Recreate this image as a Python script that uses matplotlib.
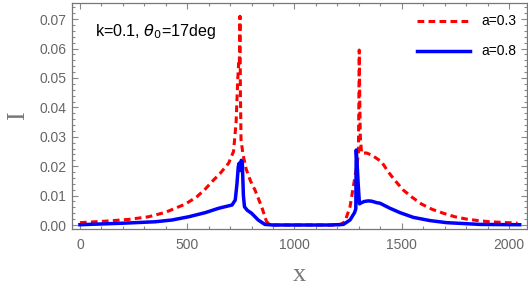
import matplotlib
matplotlib.use('Agg')
import matplotlib.pyplot as plt
from matplotlib.ticker import MultipleLocator, FormatStrFormatter

# a=0.3 (red dashed)
red_x = [0, 118, 227, 320, 398, 491, 545, 584, 623, 654, 693, 716, 728, 736, 740, 743,
         746, 748, 751, 760, 775, 795, 816, 847, 870, 890, 1000, 1150, 1210, 1235,
         1259, 1277, 1290, 1298, 1300, 1302, 1304, 1307, 1313, 1335, 1360, 1406, 1437,
         1469, 1507, 1549, 1593, 1643, 1694, 1748, 1803, 1857, 1911, 1966, 2020, 2040]
red_y = [0.0008, 0.0013, 0.0019, 0.0028, 0.0043, 0.0071, 0.0096, 0.0122, 0.0153, 0.0176,
         0.021, 0.025, 0.035, 0.050, 0.055, 0.054, 0.071, 0.045, 0.029, 0.024, 0.019,
         0.015, 0.0119, 0.0062, 0.0011, 0.0, 0.0, 0.0, 0.0, 0.0011, 0.0062, 0.0142,
         0.0198, 0.024, 0.040, 0.0595, 0.045, 0.030, 0.0244, 0.0245, 0.0238, 0.0215,
         0.0181, 0.0151, 0.0119, 0.0094, 0.0071, 0.0053, 0.004, 0.0028, 0.002, 0.0015,
         0.0011, 0.0009, 0.0007, 0.0006]

# a=0.8 (blue solid)
blue_x = [0, 196, 351, 429, 507, 584, 647, 709, 724, 732, 738, 742, 747, 752, 757, 762,
          767, 780, 800, 831, 862, 900, 1000, 1165, 1228, 1259, 1280, 1286, 1288, 1292,
          1297, 1303, 1310, 1325, 1344, 1360, 1383, 1399, 1445, 1492, 1554, 1632, 1709,
          1865, 2050]
blue_y = [0.0001, 0.0006, 0.0011, 0.0017, 0.0028, 0.0042, 0.0057, 0.0068, 0.0085, 0.014,
          0.0198, 0.021, 0.0185, 0.022, 0.021, 0.010, 0.0062, 0.005, 0.004, 0.0017,
          0.0002, 0.0, 0.0, 0.0, 0.0002, 0.0017, 0.0042, 0.0055, 0.0255, 0.021, 0.014,
          0.0072, 0.0075, 0.008, 0.0082, 0.0081, 0.0076, 0.0074, 0.0057, 0.0042, 0.0026,
          0.0015, 0.0008, 0.0002, 0.0001]

labels = ['a=0.3', 'a=0.8']

gray = '#666666'
fig = plt.figure(figsize=(5.28, 2.88), dpi=100)
ax = fig.add_axes([72/528, 1 - 229.3/288, 455/528, 226.6/288])

ax.plot(red_x, red_y, color='#ff0000', lw=2.2, linestyle=(0, (2.2, 1.4)), label=labels[0])
ax.plot(blue_x, blue_y, color='#0000ff', lw=2.5, label=labels[1])

ax.set_xlim(-37, 2084)
ax.set_ylim(-0.00146, 0.0756)

ax.xaxis.set_major_locator(MultipleLocator(500))
ax.xaxis.set_minor_locator(MultipleLocator(100))
ax.yaxis.set_major_locator(MultipleLocator(0.01))
ax.yaxis.set_minor_locator(MultipleLocator(0.002))
ax.yaxis.set_major_formatter(FormatStrFormatter('%.2f'))

ax.tick_params(which='both', direction='in', top=True, right=True, color='#888888',
               labelcolor=gray, labelsize=10, width=0.8)
ax.tick_params(which='major', length=4.5)
ax.tick_params(which='minor', length=2.5)
ax.tick_params(axis='x', pad=6)
ax.tick_params(axis='y', pad=4)
for s in ax.spines.values():
    s.set_color('#777777')
    s.set_linewidth(0.9)

for lab in ax.get_xticklabels() + ax.get_yticklabels():
    lab.set_family('Liberation Sans')

ax.set_xlabel('x', family='Liberation Serif', fontsize=19, color='#777777')
ax.xaxis.set_label_coords(0.5, -0.155)
ax.set_ylabel('I', family='Liberation Serif', fontsize=19, color='#777777')
ax.yaxis.set_label_coords(-0.095, 0.5)

ax.text(0.05, 0.851, r'k=0.1, $\theta_0$=17deg', transform=ax.transAxes,
        family='Liberation Sans', fontsize=11.6, color='black', va='baseline')

leg = ax.legend(loc='upper left', bbox_to_anchor=(0.758, 0.948), frameon=False,
                handlelength=3.8, handletextpad=0.86, labelspacing=1.15,
                borderpad=0, borderaxespad=0, prop={'family': 'Liberation Sans', 'size': 10})

plt.savefig('out.png', dpi=100)
